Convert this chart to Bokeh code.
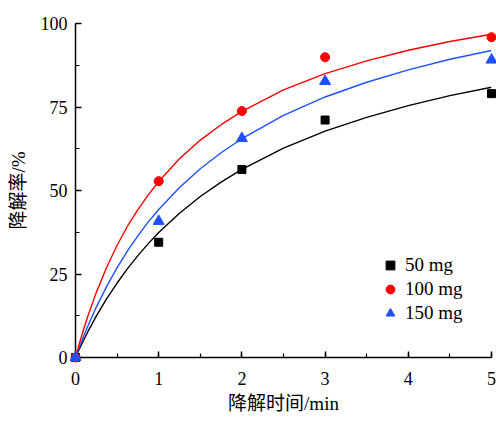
from bokeh.plotting import figure
from bokeh.models import Range1d, SingleIntervalTicker, Legend, LegendItem
from bokeh.embed import file_html
from bokeh.resources import INLINE

# measured points
time = [0, 1, 2, 3, 5]
deg_50 = [0, 34.5, 56.3, 71.1, 79.0]
deg_100 = [0, 52.8, 73.8, 89.9, 95.9]
deg_150 = [0, 40.8, 65.6, 82.7, 89.1]

# fitted curves
fit_t = [0, 0.05, 0.1, 0.15, 0.25, 0.375, 0.5, 0.625, 0.75, 0.875, 1, 1.25, 1.5, 1.75,
         2, 2.5, 3, 3.5, 4, 4.5, 5]
fit_50 = [0, 2.7, 5.3, 7.8, 12.4, 17.6, 22.3, 26.6, 30.5, 34.1, 37.4, 43.2, 48.2, 52.5,
          56.3, 62.7, 67.8, 71.9, 75.4, 78.4, 80.9]
fit_100 = [0, 4.5, 8.6, 12.5, 19.5, 27.0, 33.6, 39.3, 44.3, 48.7, 52.7, 59.5, 65.1, 69.7,
           73.7, 80.1, 85.0, 88.8, 92.0, 94.6, 96.8]
fit_150 = [0, 3.3, 6.5, 9.5, 15.1, 21.3, 26.9, 31.9, 36.4, 40.6, 44.3, 50.9, 56.5, 61.3,
           65.5, 72.5, 78.0, 82.4, 86.1, 89.3, 91.9]

labels = ["50 mg", "100 mg", "150 mg"]
x_label = "降解时间/min"
y_label = "降解率/%"

BLACK = "#000000"
RED = "#ff0000"
BLUE = "#1f4fff"
SERIF = "Liberation Serif, Noto Sans CJK SC"

p = figure(width=496, height=421,
           x_range=Range1d(0, 5), y_range=Range1d(0, 100),
           output_backend="svg", toolbar_location=None,
           min_border_left=75, min_border_right=5,
           min_border_top=23, min_border_bottom=64)
p.outline_line_color = None
p.xgrid.visible = False
p.ygrid.visible = False
p.background_fill_color = "white"
p.border_fill_color = "white"

p.xaxis.ticker = SingleIntervalTicker(interval=1, num_minor_ticks=2)
p.yaxis.ticker = SingleIntervalTicker(interval=25, num_minor_ticks=2)

for ax in (p.xaxis, p.yaxis):
    ax.axis_line_color = BLACK
    ax.axis_line_width = 1.5
    ax.major_tick_in = 6
    ax.major_tick_out = 0
    ax.minor_tick_in = 4
    ax.minor_tick_out = 0
    ax.major_tick_line_color = BLACK
    ax.minor_tick_line_color = BLACK
    ax.major_tick_line_width = 1.5
    ax.minor_tick_line_width = 1.2
    ax.major_label_text_font = SERIF
    ax.major_label_text_font_size = "18px"
    ax.major_label_text_color = BLACK
    ax.axis_label_text_font = SERIF
    ax.axis_label_text_font_size = "19px"
    ax.axis_label_text_font_style = "normal"
    ax.axis_label_text_color = BLACK
p.xaxis.major_label_standoff = 14
p.yaxis.major_label_standoff = 8
p.xaxis.axis_label = x_label
p.yaxis.axis_label = y_label
p.xaxis.axis_label_standoff = 5
p.yaxis.axis_label_standoff = 9

# curves
p.line(fit_t, fit_50, line_color=BLACK, line_width=1.4)
p.line(fit_t, fit_150, line_color=BLUE, line_width=1.4)
p.line(fit_t, fit_100, line_color=RED, line_width=1.4)

r50 = p.scatter(time, deg_50, marker="square", size=8, color=BLACK, level="overlay")
r100 = p.scatter(time, deg_100, marker="circle", size=9, color=RED, level="overlay")
r150 = p.scatter(time, deg_150, marker="triangle", size=11, color=BLUE, level="overlay")

legend = Legend(items=[LegendItem(label=labels[0], renderers=[r50]),
                       LegendItem(label=labels[1], renderers=[r100]),
                       LegendItem(label=labels[2], renderers=[r150])],
                location=(304, 33), orientation="vertical",
                border_line_color=None, background_fill_alpha=0,
                padding=0, margin=0, spacing=2,
                glyph_width=22, glyph_height=22, label_height=22,
                label_standoff=4,
                label_text_font=SERIF, label_text_font_size="19px",
                label_text_color=BLACK)
p.add_layout(legend)

open("out.html", "w").write(file_html(p, INLINE))
